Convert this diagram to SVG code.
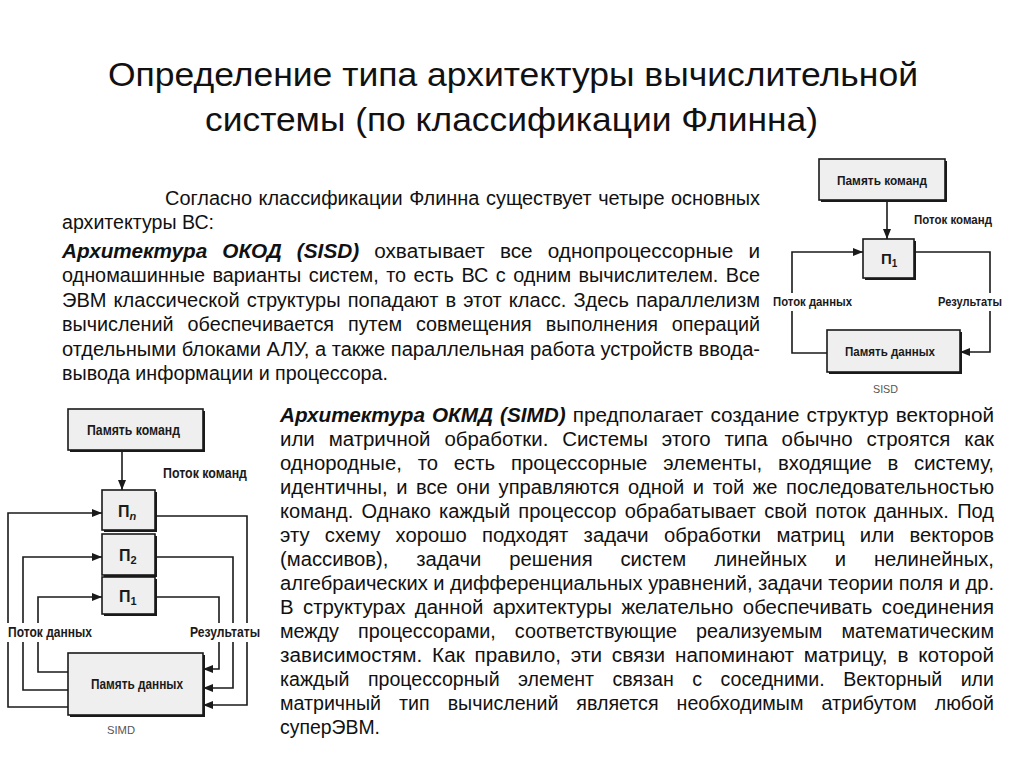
<svg xmlns="http://www.w3.org/2000/svg" width="1024" height="768" viewBox="0 0 1024 768">
<defs>
<style>
.bg{fill:#ffffff}
.box{fill:#efefef;stroke:#1a1a1a;stroke-width:1.6}
.shadow{fill:#1a1a1a}
.wire{fill:none;stroke:#1a1a1a;stroke-width:1.6}
.lbl{font-family:"Liberation Sans",Arial,sans-serif;font-weight:bold;fill:#1a1a1a}
.pl{font-family:"Liberation Sans",Arial,sans-serif;font-weight:bold;fill:#1a1a1a}
.cap{font-family:"Liberation Sans",Arial,sans-serif;fill:#555555;font-size:11px}
.knock{fill:#ffffff}
.title{font-family:"Liberation Sans",Arial,sans-serif;font-size:34px;fill:#111111}
.body{font-family:"Liberation Sans",Arial,sans-serif;font-size:20px;fill:#111111}
.bi{font-weight:bold;font-style:italic}
</style>
<marker id="ah" viewBox="0 0 10 8" refX="10" refY="4" markerWidth="10" markerHeight="8" markerUnits="userSpaceOnUse" orient="auto">
<path d="M0,0 L10,4 L0,8 z" fill="#1a1a1a"/>
</marker>
</defs>
<rect class="bg" x="0" y="0" width="1024" height="768"/>

<g id="title">
<text class="title" x="108" y="86" textLength="810" lengthAdjust="spacingAndGlyphs">Определение типа архитектуры вычислительной</text>
<text class="title" x="205" y="131" textLength="613" lengthAdjust="spacingAndGlyphs">системы (по классификации Флинна)</text>
</g>

<g id="text-sisd">
<text class="body" x="165" y="205" textLength="595" lengthAdjust="spacingAndGlyphs" word-spacing="1">Согласно классификации Флинна существует четыре основных</text>
<text class="body" x="62" y="229" textLength="152" lengthAdjust="spacingAndGlyphs">архитектуры ВС:</text>
<text class="body" x="62" y="258" textLength="698" lengthAdjust="spacingAndGlyphs" word-spacing="9"><tspan class="bi">Архитектура ОКОД (SISD)</tspan> охватывает все однопроцессорные и</text>
<text class="body" x="62" y="282.4" textLength="698" lengthAdjust="spacingAndGlyphs" word-spacing="2">одномашинные варианты систем, то есть ВС с одним вычислителем. Все</text>
<text class="body" x="62" y="306.8" textLength="698" lengthAdjust="spacingAndGlyphs" word-spacing="1.5">ЭВМ классической структуры попадают в этот класс. Здесь параллелизм</text>
<text class="body" x="62" y="331.2" textLength="698" lengthAdjust="spacingAndGlyphs" word-spacing="8.5">вычислений обеспечивается путем совмещения выполнения операций</text>
<text class="body" x="62" y="355.6" textLength="698" lengthAdjust="spacingAndGlyphs">отдельными блоками АЛУ, а также параллельная работа устройств ввода-</text>
<text class="body" x="62" y="380" textLength="326" lengthAdjust="spacingAndGlyphs">вывода информации и процессора.</text>
</g>

<g id="text-simd">
<text class="body" x="280" y="421.5" textLength="714" lengthAdjust="spacingAndGlyphs" word-spacing="1.3"><tspan class="bi">Архитектура ОКМД (SIMD)</tspan> предполагает создание структур векторной</text>
<text class="body" x="280" y="445.5" textLength="714" lengthAdjust="spacingAndGlyphs" word-spacing="8">или матричной обработки. Системы этого типа обычно строятся как</text>
<text class="body" x="280" y="469.5" textLength="714" lengthAdjust="spacingAndGlyphs" word-spacing="10">однородные, то есть процессорные элементы, входящие в систему,</text>
<text class="body" x="280" y="493.5" textLength="714" lengthAdjust="spacingAndGlyphs" word-spacing="3">идентичны, и все они управляются одной и той же последовательностью</text>
<text class="body" x="280" y="517.5" textLength="714" lengthAdjust="spacingAndGlyphs" word-spacing="2.7">команд. Однако каждый процессор обрабатывает свой поток данных. Под</text>
<text class="body" x="280" y="541.5" textLength="714" lengthAdjust="spacingAndGlyphs" word-spacing="9.5">эту схему хорошо подходят задачи обработки матриц или векторов</text>
<text class="body" x="280" y="565.5" textLength="714" lengthAdjust="spacingAndGlyphs" word-spacing="22">(массивов), задачи решения систем линейных и нелинейных,</text>
<text class="body" x="280" y="589.5" textLength="714" lengthAdjust="spacingAndGlyphs">алгебраических и дифференциальных уравнений, задачи теории поля и др.</text>
<text class="body" x="280" y="613.5" textLength="714" lengthAdjust="spacingAndGlyphs" word-spacing="3.7">В структурах данной архитектуры желательно обеспечивать соединения</text>
<text class="body" x="280" y="637.5" textLength="714" lengthAdjust="spacingAndGlyphs" word-spacing="13.7">между процессорами, соответствующие реализуемым математическим</text>
<text class="body" x="280" y="661.5" textLength="714" lengthAdjust="spacingAndGlyphs" word-spacing="4">зависимостям. Как правило, эти связи напоминают матрицу, в которой</text>
<text class="body" x="280" y="685.5" textLength="714" lengthAdjust="spacingAndGlyphs" word-spacing="13.3">каждый процессорный элемент связан с соседними. Векторный или</text>
<text class="body" x="280" y="709.5" textLength="714" lengthAdjust="spacingAndGlyphs" word-spacing="12.8">матричный тип вычислений является необходимым атрибутом любой</text>
<text class="body" x="280" y="733.5" textLength="100" lengthAdjust="spacingAndGlyphs">суперЭВМ.</text>
</g>

<!-- SISD diagram -->
<g id="sisd-connectors">
<path class="wire" d="M887,200 V239" marker-end="url(#ah)"/>
<path class="wire" d="M827,353 H792 V252 H863" marker-end="url(#ah)"/>
<path class="wire" d="M914,252 H990 V352 H960" marker-end="url(#ah)"/>
</g>
<g id="sisd-cmdmem">
<rect class="shadow" x="821" y="161" width="126" height="41"/>
<rect class="box" x="819" y="159" width="126" height="41"/>
<text class="lbl" x="837" y="185" font-size="13" textLength="90" lengthAdjust="spacingAndGlyphs">Память команд</text>
</g>
<g id="sisd-p1">
<rect class="shadow" x="865" y="241" width="51" height="39"/>
<rect class="box" x="863" y="239" width="51" height="39"/>
<text class="pl" x="881" y="264" font-size="15">П<tspan font-size="10" dy="3">1</tspan></text>
</g>
<g id="sisd-datamem">
<rect class="shadow" x="829" y="332" width="133" height="42"/>
<rect class="box" x="827" y="330" width="133" height="42"/>
<text class="lbl" x="845" y="356" font-size="13" textLength="90" lengthAdjust="spacingAndGlyphs">Память данных</text>
</g>
<g id="sisd-labels">
<text class="lbl" x="914" y="224" font-size="13" textLength="78" lengthAdjust="spacingAndGlyphs">Поток команд</text>
<rect class="knock" x="771" y="293" width="84" height="18"/>
<text class="lbl" x="773" y="306" font-size="13" textLength="79" lengthAdjust="spacingAndGlyphs">Поток данных</text>
<rect class="knock" x="936" y="293" width="68" height="18"/>
<text class="lbl" x="938" y="306" font-size="13" textLength="64" lengthAdjust="spacingAndGlyphs">Результаты</text>
<text class="cap" x="873" y="393" textLength="25" lengthAdjust="spacingAndGlyphs">SISD</text>
</g>

<!-- SIMD diagram -->
<g id="simd-connectors">
<path class="wire" d="M122,450 V490" marker-end="url(#ah)"/>
<path class="wire" d="M68,707 H8 V513 H102" marker-end="url(#ah)"/>
<path class="wire" d="M68,690 H23 V557 H102" marker-end="url(#ah)"/>
<path class="wire" d="M68,672 H38 V597 H102" marker-end="url(#ah)"/>
<path class="wire" d="M155,516 H247 V705 H203" marker-end="url(#ah)"/>
<path class="wire" d="M155,557 H233 V688 H203" marker-end="url(#ah)"/>
<path class="wire" d="M155,597 H219 V669 H203" marker-end="url(#ah)"/>
</g>
<g id="simd-cmdmem">
<rect class="shadow" x="70" y="411" width="135" height="41"/>
<rect class="box" x="68" y="409" width="135" height="41"/>
<text class="lbl" x="87" y="435" font-size="14" textLength="93" lengthAdjust="spacingAndGlyphs">Память команд</text>
</g>
<g id="simd-pn">
<rect class="shadow" x="104" y="492" width="53" height="40"/>
<rect class="box" x="102" y="490" width="53" height="40"/>
<text class="pl" x="118" y="517" font-size="16">П<tspan font-size="11" dy="3" font-style="italic">n</tspan></text>
</g>
<g id="simd-p2">
<rect class="shadow" x="104" y="536" width="53" height="41"/>
<rect class="box" x="102" y="534" width="53" height="41"/>
<text class="pl" x="119" y="561" font-size="16">П<tspan font-size="11" dy="3">2</tspan></text>
</g>
<g id="simd-p1">
<rect class="shadow" x="104" y="579" width="53" height="37"/>
<rect class="box" x="102" y="577" width="53" height="37"/>
<text class="pl" x="119" y="602" font-size="16">П<tspan font-size="11" dy="3">1</tspan></text>
</g>
<g id="simd-datamem">
<rect class="shadow" x="70" y="655" width="135" height="62"/>
<rect class="box" x="68" y="653" width="135" height="62"/>
<text class="lbl" x="91" y="689" font-size="14" textLength="92" lengthAdjust="spacingAndGlyphs">Память данных</text>
</g>
<g id="simd-labels">
<text class="lbl" x="163" y="478" font-size="14" textLength="84" lengthAdjust="spacingAndGlyphs">Поток команд</text>
<rect class="knock" x="4" y="623" width="91" height="19"/>
<text class="lbl" x="8" y="637" font-size="14" textLength="84" lengthAdjust="spacingAndGlyphs">Поток данных</text>
<rect class="knock" x="187" y="623" width="76" height="19"/>
<text class="lbl" x="190" y="637" font-size="14" textLength="70" lengthAdjust="spacingAndGlyphs">Результаты</text>
<text class="cap" x="107" y="734" textLength="28" lengthAdjust="spacingAndGlyphs">SIMD</text>
</g>
</svg>
